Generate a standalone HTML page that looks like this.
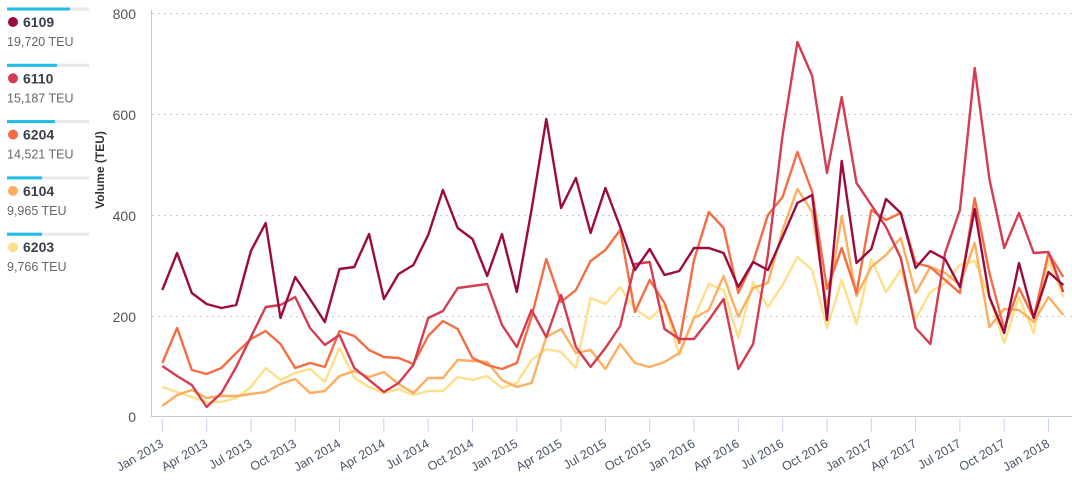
<!DOCTYPE html>
<html><head><meta charset="utf-8"><style>
body{margin:0;background:#fff;width:1072px;height:484px;overflow:hidden;font-family:"Liberation Sans",sans-serif}
</style></head><body>
<svg id="s" width="1072" height="484" xmlns="http://www.w3.org/2000/svg" style="font-family:'Liberation Sans',sans-serif">
<g id="legend"></g>
<g stroke="#ccc" stroke-dasharray="2,4" stroke-width="1">
<line x1="152" x2="1072" y1="13.5" y2="13.5"/><line x1="152" x2="1072" y1="114.5" y2="114.5"/>
<line x1="152" x2="1072" y1="215.5" y2="215.5"/><line x1="152" x2="1072" y1="316.5" y2="316.5"/>
</g>
<line x1="151.5" x2="151.5" y1="10" y2="417" stroke="#c5ccd6"/>
<line x1="151" x2="1072" y1="416.5" y2="416.5" stroke="#c5ccd6"/>
<g font-size="14" fill="#555" text-anchor="end">
<text x="136" y="19">800</text><text x="136" y="120">600</text><text x="136" y="221">400</text><text x="136" y="322">200</text><text x="136" y="422">0</text>
</g>
<text transform="translate(104,170) rotate(-90)" text-anchor="middle" font-size="12" font-weight="bold" fill="#333">Volume (TEU)</text>
<g id="ticks"></g>
<g id="lines" fill="none" stroke-width="2.4" stroke-linejoin="round"></g>
</svg>
<script>
var NS="http://www.w3.org/2000/svg";
function el(t,a,txt){var e=document.createElementNS(NS,t);for(var k in a)e.setAttribute(k,a[k]);if(txt)e.textContent=txt;return e;}
var X=function(m){return 162.3+14.77*m;};
var ticks=document.getElementById('ticks');
var labs=["Jan 2013","Apr 2013","Jul 2013","Oct 2013","Jan 2014","Apr 2014","Jul 2014","Oct 2014","Jan 2015","Apr 2015","Jul 2015","Oct 2015","Jan 2016","Apr 2016","Jul 2016","Oct 2016","Jan 2017","Apr 2017","Jul 2017","Oct 2017","Jan 2018"];
labs.forEach(function(l,i){var x=X(i*3);
ticks.appendChild(el('line',{x1:x,x2:x,y1:418,y2:432,stroke:'#c9d3e6'}));
ticks.appendChild(el('text',{x:x+2,y:446,'font-size':12.5,fill:'#4a5568','text-anchor':'end',transform:'rotate(-30 '+(x+2)+' 446)'},l));});
var S=[
['#fee08b',[387,392,397,402,402,398,387,368,380,373,369,382,348,378,387,393,389,395,391,391,377,380,376,388,383,360,349,352,368,298,304,287,309,319,305,355,318,284,290,338,282,307,285,257,270,328,280,324,259,292,270,319,292,283,265,261,297,343,297,333,260,297]],
['#fdae61',[406,395,390,398,396,396,394,392,384,379,393,391,376,371,377,372,384,393,378,378,360,361,362,380,387,383,337,329,353,350,369,344,363,367,362,353,318,310,276,317,288,283,230,189,212,308,216,296,267,255,238,293,267,273,285,243,327,309,310,322,297,315]],
['#f46d43',[363,328,370,374,368,353,339,331,344,368,363,367,331,336,350,357,358,364,336,321,329,358,365,369,363,317,259,302,290,261,250,230,312,280,303,343,260,212,228,293,262,215,197,152,192,289,248,293,210,220,213,263,267,280,293,198,273,329,288,318,253,277]],
['#d43d51',[366,376,385,407,393,367,337,307,305,297,328,345,335,368,380,392,383,365,318,311,288,286,284,325,347,310,337,295,347,367,348,326,264,262,329,339,339,320,299,369,344,255,135,42,76,173,97,183,205,227,258,328,344,253,210,68,179,248,213,253,252,292]],
['#9c0b3f',[290,253,293,304,308,305,251,223,318,277,299,322,269,267,234,299,274,265,235,190,228,239,276,234,292,210,119,208,178,233,188,227,270,249,275,271,248,248,253,287,262,270,237,203,195,320,161,263,249,199,213,268,251,259,287,209,297,333,263,318,272,285]]
];
var g=document.getElementById('lines');
S.forEach(function(s){g.appendChild(el('polyline',{stroke:s[0],points:s[1].map(function(y,i){return X(i).toFixed(1)+','+y;}).join(' ')}));});
var L=[['6109','19,720 TEU','#9c0b3f',63],['6110','15,187 TEU','#d43d51',50],['6204','14,521 TEU','#f46d43',48],['6104','9,965 TEU','#fdae61',35],['6203','9,766 TEU','#fee08b',35]];
var lg=document.getElementById('legend');
L.forEach(function(l,i){var y=i*56.3;
lg.appendChild(el('rect',{x:7,y:y+7.5,width:82,height:3,fill:'#e6e8eb'}));
lg.appendChild(el('rect',{x:7,y:y+7.5,width:l[3],height:3,fill:'#1fbde8'}));
lg.appendChild(el('circle',{cx:13,cy:y+22,r:5,fill:l[2]}));
lg.appendChild(el('text',{x:23,y:y+27,'font-size':14,'font-weight':'bold',fill:'#3a3f4a'},l[0]));
lg.appendChild(el('text',{x:7,y:y+46,'font-size':12.5,fill:'#666'},l[1]));});
</script>
</body></html>
